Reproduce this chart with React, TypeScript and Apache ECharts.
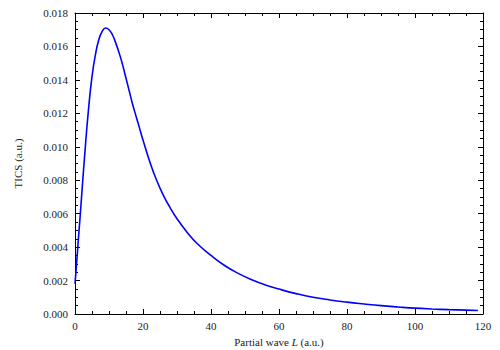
import React, { useEffect, useRef } from "react";
import * as echarts from "echarts";

const partialWaves: number[] = [
  0, 0.5, 1, 1.5, 2, 3, 4, 5, 6, 7, 8, 9, 10, 11, 12, 13, 14, 15, 16, 17, 18, 19, 20,
  22, 24, 26, 28, 30, 33, 36, 40, 44, 48, 52, 56, 60, 65, 70, 75, 80, 85, 90, 95, 100,
  105, 110, 115, 118.5,
];
const ticsValues: number[] = [
  0.0018, 0.0031, 0.0045, 0.0058, 0.0072, 0.0099, 0.0123, 0.0142, 0.0155, 0.0164, 0.0169,
  0.0171, 0.017, 0.0167, 0.0162, 0.0156, 0.0149, 0.0141, 0.0133, 0.0125, 0.0118, 0.0111,
  0.0104, 0.0091, 0.008, 0.0071, 0.00635, 0.0057, 0.00488, 0.0042, 0.0035, 0.0029, 0.00243,
  0.00205, 0.00174, 0.00149, 0.00122, 0.001, 0.00084, 0.00071, 0.0006, 0.0005, 0.00042,
  0.00035, 0.0003, 0.00026, 0.00023, 0.00021,
];

const FONT = "'Liberation Serif', 'DejaVu Serif', serif";

export default function App() {
  const ref = useRef<HTMLDivElement>(null);
  useEffect(() => {
    if (!ref.current) return;
    const chart = echarts.init(ref.current, undefined, { renderer: "svg" });
    const axisCommon = {
      axisLine: { show: true, onZero: false, lineStyle: { color: "#000", width: 1 } },
      axisTick: { show: true, inside: true, length: 5, lineStyle: { color: "#000" } },
      minorTick: { show: true, splitNumber: 4, length: 3, lineStyle: { color: "#000" } },
      splitLine: { show: false },
    };
    const data = partialWaves.map((x, i) => [x, ticsValues[i]]);
    chart.setOption({
      animation: false,
      backgroundColor: "#fff",
      grid: { left: 75, right: 17, top: 13, bottom: 36, containLabel: false, outerBoundsMode: "none" },
      xAxis: [
        {
          type: "value",
          min: 0,
          max: 120,
          interval: 20,
          position: "bottom",
          ...axisCommon,
          axisLabel: { color: "#222", fontFamily: FONT, fontSize: 11, margin: 6 },
          name: "{n|Partial wave }{i|L}{n| (a.u.)}",
          nameLocation: "middle",
          nameGap: 21,
          nameTextStyle: {
            lineHeight: 13,
            verticalAlign: "top",
            rich: {
              n: { fontFamily: FONT, fontSize: 11, color: "#222", lineHeight: 13 },
              i: { fontFamily: FONT, fontSize: 11, color: "#222", fontStyle: "italic", lineHeight: 13 },
            },
          },
        },
        {
          type: "value",
          min: 0,
          max: 120,
          interval: 20,
          position: "top",
          ...axisCommon,
          axisLabel: { show: false },
        },
      ],
      yAxis: [
        {
          type: "value",
          min: 0,
          max: 0.018,
          interval: 0.002,
          position: "left",
          ...axisCommon,
          axisLabel: {
            color: "#222",
            fontFamily: FONT,
            fontSize: 11,
            margin: 7,
            formatter: (v: number) => v.toFixed(3),
          },
          name: "TICS (a.u.)",
          nameLocation: "middle",
          nameGap: 52,
          nameRotate: 90,
          nameTextStyle: { fontFamily: FONT, fontSize: 11, color: "#222" },
        },
        {
          type: "value",
          min: 0,
          max: 0.018,
          interval: 0.002,
          position: "right",
          ...axisCommon,
          axisLabel: { show: false },
        },
      ],
      series: [
        {
          type: "line",
          data,
          xAxisIndex: 0,
          yAxisIndex: 0,
          smooth: 0.5,
          showSymbol: false,
          lineStyle: { color: "#0000ff", width: 1.6 },
          itemStyle: { color: "#0000ff" },
        },
      ],
    });
    return () => chart.dispose();
  }, []);
  return <div ref={ref} style={{ width: 500, height: 350, marginLeft: -8, marginTop: -8 }} />;
}
